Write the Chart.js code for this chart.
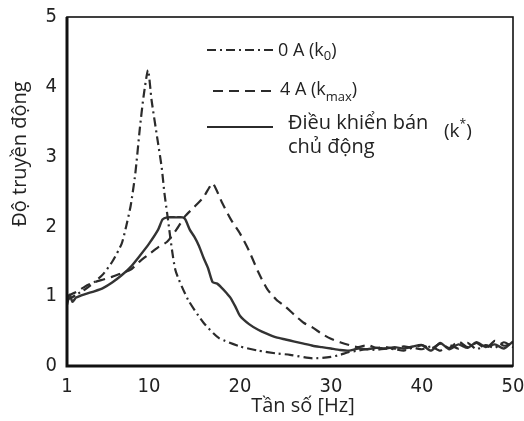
<!DOCTYPE html>
<html>
<head>
<meta charset="utf-8">
<script src="https://cdn.jsdelivr.net/npm/chart.js@4"></script>
<style>
  html, body { margin: 0; padding: 0; background: #fff; }
  #wrap { width: 524px; height: 421px; }
</style>
</head>
<body>
<div id="wrap"><canvas id="chart" width="524" height="421"></canvas></div>
<script>
// ---------------- data ----------------
const xTicks = [1, 10, 20, 30, 40, 50];
const yTicks = [0, 1, 2, 3, 4, 5];

// 0 A (k0) - dash dot
const freqK0 = [1, 1.5, 2, 3, 4, 5, 6, 7, 7.5, 8, 8.5, 9, 9.4, 9.9, 10.3, 10.9, 11.4, 11.7, 12, 12.9, 14.3, 16, 17.7, 20, 22, 24, 25.5, 28, 30,
  31, 32, 33, 34, 35, 36, 37, 38, 39, 40, 41, 42, 43, 44, 45, 46, 47, 48, 49, 50];
const valK0 = [0.95, 0.98, 1.02, 1.1, 1.2, 1.32, 1.5, 1.75, 2.0, 2.3, 2.75, 3.4, 3.85, 4.24, 3.8, 3.28, 2.85, 2.48, 2.19, 1.38, 0.95, 0.62, 0.4, 0.28, 0.22, 0.18, 0.16, 0.11, 0.13,
  0.16, 0.2, 0.22, 0.24, 0.23, 0.25, 0.24, 0.22, 0.26, 0.24, 0.28, 0.22, 0.3, 0.25, 0.33, 0.24, 0.3, 0.26, 0.34, 0.27];

// 4 A (kmax) - dashed
const freqKmax = [1, 2, 3, 4, 5, 6, 7, 8, 9, 10, 11, 12, 13, 14, 15, 16, 16.6, 17, 17.5, 18, 19, 20, 21, 22, 23, 24, 25, 26, 27, 28, 29, 30, 31,
  32, 33, 34, 35, 36, 37, 38, 39, 40, 41, 42, 43, 44, 45, 46, 47, 48, 49, 50];
const valKmax = [1.0, 1.06, 1.14, 1.2, 1.24, 1.28, 1.33, 1.38, 1.5, 1.6, 1.7, 1.78, 1.95, 2.15, 2.28, 2.42, 2.55, 2.62, 2.5, 2.35, 2.1, 1.9, 1.65, 1.35, 1.1, 0.95, 0.85, 0.73, 0.62, 0.55, 0.46, 0.39, 0.34,
  0.3, 0.27, 0.3, 0.26, 0.27, 0.25, 0.28, 0.26, 0.3, 0.25, 0.32, 0.26, 0.35, 0.27, 0.33, 0.25, 0.36, 0.29, 0.33];

// dieu khien ban chu dong (k*) - solid
const freqSemi = [1, 1.3, 1.6, 2, 3, 4, 5, 6, 7, 8, 9, 10, 11, 11.5, 12, 13, 13.7, 14, 14.5, 15, 15.5, 16, 16.5, 17, 17.5, 18, 18.5, 19, 19.5, 20, 21, 22, 23, 24, 25, 26, 27, 28, 29, 30,
  31, 32, 33, 34, 35, 36, 37, 38, 39, 40, 41, 42, 43, 44, 45, 46, 47, 48, 49, 50];
const valSemi = [0.88, 1.02, 0.92, 0.98, 1.03, 1.07, 1.12, 1.2, 1.3, 1.42, 1.58, 1.75, 1.95, 2.1, 2.13, 2.13, 2.13, 2.1, 1.95, 1.85, 1.72, 1.55, 1.4, 1.2, 1.18, 1.12, 1.05, 0.97, 0.85, 0.72, 0.6, 0.52, 0.46, 0.41, 0.38, 0.35, 0.32, 0.29, 0.27, 0.25,
  0.23, 0.22, 0.25, 0.24, 0.26, 0.25, 0.27, 0.25, 0.28, 0.3, 0.22, 0.33, 0.24, 0.31, 0.26, 0.34, 0.27, 0.31, 0.25, 0.35];

const toPts = (xs, ys) => xs.map((x, i) => ({ x: x, y: ys[i] }));

const lineColor = "#2b2b2b";
const tickFont = { family: "'Liberation Sans Narrow', 'DejaVu Sans Condensed', 'Liberation Sans', sans-serif", size: 20 };
const textFont = "'Open Sans', 'Noto Sans', sans-serif";

// ---------------- plugin: box, axis titles, legend ----------------
function drawSeg(ctx, x1, x2, y, dash) {
  ctx.save();
  ctx.strokeStyle = lineColor;
  ctx.lineWidth = 2.2;
  ctx.setLineDash(dash);
  ctx.beginPath();
  ctx.moveTo(x1, y);
  ctx.lineTo(x2, y);
  ctx.stroke();
  ctx.restore();
}

// parts: [text, fontSize, dy]
function drawParts(ctx, parts, x, y) {
  ctx.textBaseline = "alphabetic";
  ctx.textAlign = "left";
  parts.forEach(p => {
    ctx.font = p[1] + "px " + textFont;
    ctx.fillText(p[0], x, y + p[2]);
    x += ctx.measureText(p[0]).width;
  });
}

const decorPlugin = {
  id: "decor",
  afterDatasetsDraw(chart) {
    const ctx = chart.ctx;
    const a = chart.chartArea;
    ctx.save();
    // frame
    ctx.strokeStyle = "#111";
    ctx.lineWidth = 1.6;
    ctx.strokeRect(a.left, a.top, a.right - a.left, a.bottom - a.top);
    ctx.lineWidth = 3;
    ctx.beginPath();
    ctx.moveTo(a.left, a.top);
    ctx.lineTo(a.left, a.bottom);
    ctx.lineTo(a.right, a.bottom);
    ctx.stroke();

    ctx.fillStyle = "#222";
    // axis titles
    ctx.font = "20px " + textFont;
    ctx.textAlign = "center";
    ctx.textBaseline = "alphabetic";
    ctx.fillText("Tần số [Hz]", 303, 412);
    ctx.save();
    ctx.translate(26, 154);
    ctx.rotate(-Math.PI / 2);
    ctx.fillText("Độ truyền động", 0, 0);
    ctx.restore();

    // legend
    drawSeg(ctx, 207, 274, 50, [9, 4, 2, 4]);
    drawParts(ctx, [["0 A (k", 18, 0], ["0", 13, 4], [")", 18, 0]], 278, 56);
    drawSeg(ctx, 213, 272, 91, [10, 6]);
    drawParts(ctx, [["4 A (k", 18, 0], ["max", 13, 6], [")", 18, 0]], 280, 95);
    drawSeg(ctx, 207, 273, 127, []);
    drawParts(ctx, [["Điều khiển bán", 20, 0]], 288, 129);
    drawParts(ctx, [["chủ động", 20, 0]], 288, 153);
    drawParts(ctx, [["(k", 19, 0], ["*", 12, -9], [")", 19, 0]], 444, 137);
    ctx.restore();
  }
};

// no automatic label overflow padding: the layout padding sets the plot box
function noPad(s) {
  s.paddingLeft = 0;
  s.paddingRight = 0;
  s.paddingTop = 0;
  s.paddingBottom = 0;
}

// ---------------- chart ----------------
const ctxChart = document.getElementById("chart").getContext("2d");
const chart = new Chart(ctxChart, {
  type: "line",
  data: {
    datasets: [
      {
        label: "0 A (k0)",
        data: toPts(freqK0, valK0),
        borderColor: lineColor,
        borderWidth: 2.2,
        borderDash: [9, 4, 2, 4],
        pointRadius: 0,
        tension: 0.2,
      },
      {
        label: "4 A (kmax)",
        data: toPts(freqKmax, valKmax),
        borderColor: lineColor,
        borderWidth: 2.2,
        borderDash: [10, 6],
        pointRadius: 0,
        tension: 0.2,
      },
      {
        label: "Điều khiển bán chủ động (k*)",
        data: toPts(freqSemi, valSemi),
        borderColor: "#333",
        borderWidth: 2.4,
        pointRadius: 0,
        tension: 0.2,
      },
    ],
  },
  options: {
    responsive: false,
    animation: false,
    layout: { padding: { top: 17, right: 11, left: 0, bottom: 0 } },
    plugins: {
      legend: { display: false },
      tooltip: { enabled: false },
    },
    scales: {
      x: {
        type: "linear",
        min: 1,
        max: 50,
        afterBuildTicks: s => { s.ticks = xTicks.map(v => ({ value: v })); },
        afterFit: s => { s.height = 55; noPad(s); },
        grid: { display: false, drawTicks: false },
        border: { display: false },
        ticks: { color: "#222", font: tickFont, padding: 9, maxRotation: 0 },
      },
      y: {
        min: 0,
        max: 5,
        afterBuildTicks: s => { s.ticks = yTicks.map(v => ({ value: v })); },
        afterFit: s => { s.width = 67; noPad(s); },
        grid: { display: false, drawTicks: false },
        border: { display: false },
        ticks: { color: "#222", font: tickFont, padding: 10 },
      },
    },
  },
  plugins: [decorPlugin],
});
</script>
</body>
</html>
